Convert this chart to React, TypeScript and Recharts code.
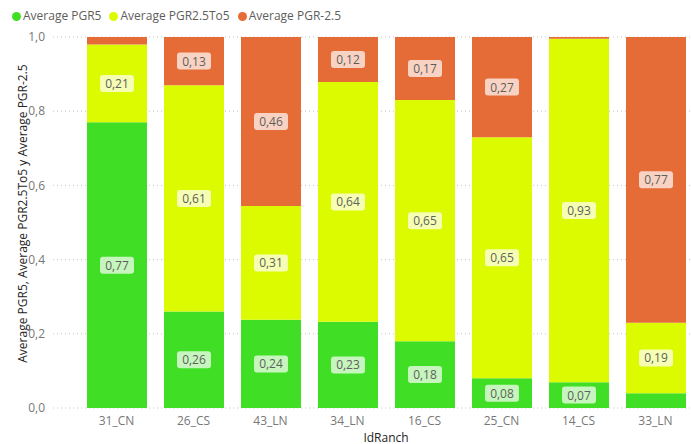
import { Bar, BarChart, CartesianGrid, LabelList, XAxis, YAxis } from "recharts";

const ranches = ["31_CN", "26_CS", "43_LN", "34_LN", "16_CS", "25_CN", "14_CS", "33_LN"];
const pgr5 = [0.77, 0.26, 0.24, 0.23, 0.18, 0.08, 0.07, 0.04];
const pgr25to5 = [0.21, 0.61, 0.31, 0.64, 0.65, 0.65, 0.93, 0.19];
const pgrMinus25 = [0.02, 0.13, 0.46, 0.12, 0.17, 0.27, 0.005, 0.77];
const yTicks = [0, 0.2, 0.4, 0.6, 0.8, 1];

const series = [
  { key: "pgr5", name: "Average PGR5", color: "#40df26" },
  { key: "pgr25to5", name: "Average PGR2.5To5", color: "#dcfa00" },
  { key: "pgrMinus25", name: "Average PGR-2.5", color: "#e66c37" },
];

const data = ranches.map((id, i) => ({
  id,
  pgr5: pgr5[i],
  pgr25to5: pgr25to5[i],
  pgrMinus25: pgrMinus25[i],
}));

const font = "'Segoe UI', 'Open Sans', sans-serif";
const fmt = (v: number) => v.toFixed(1).replace(".", ",");

function ValueLabel(props: any) {
  const { x, y, width, height, value } = props;
  if (value < 0.06) return null;
  const cx = x + width / 2;
  const cy = y + height / 2;
  return (
    <g>
      <rect x={cx - 17} y={cy - 8.5} width={34} height={17} rx={3} fill="#fff" fillOpacity={0.7} />
      <text x={cx} y={cy} textAnchor="middle" dominantBaseline="central" fill="#605e5c" fontSize={12} fontFamily={font}>
        {value.toFixed(2).replace(".", ",")}
      </text>
    </g>
  );
}

function YTitle(props: any) {
  const { viewBox } = props;
  const x = viewBox.x + 22;
  const y = viewBox.y + viewBox.height / 2 - 9;
  return (
    <text x={x} y={y} transform={`rotate(-90, ${x}, ${y})`} textAnchor="middle" dominantBaseline="central" fill="#252423" fontSize={12} fontFamily={font}>
      Average PGR5, Average PGR2.5To5 y Average PGR-2.5
    </text>
  );
}

function XTitle(props: any) {
  const { viewBox } = props;
  const x = viewBox.x + 25 + (viewBox.width - 25) / 2;
  return (
    <text x={x} y={viewBox.y + 29} textAnchor="middle" dominantBaseline="central" fill="#252423" fontSize={12} fontFamily={font}>
      IdRanch
    </text>
  );
}

export default function App() {
  return (
    <div style={{ position: "absolute", left: 0, top: 0, width: 691, height: 444, overflow: "hidden", fontFamily: font }}>
      <div style={{ position: "absolute", left: 12, top: 7, display: "flex", gap: 8, fontSize: 12, lineHeight: "18px", color: "#605e5c" }}>
        {series.map((s) => (
          <div key={s.key} style={{ display: "flex", alignItems: "center", gap: 2 }}>
            <span style={{ width: 9, height: 9, borderRadius: 5, background: s.color, display: "inline-block" }} />
            {s.name}
          </div>
        ))}
      </div>
      <BarChart
        width={694}
        height={444}
        data={data}
        stackOffset="expand"
        margin={{ top: 37, right: 0, bottom: 0, left: 0 }}
        barSize={60}
      >
        <CartesianGrid vertical={false} stroke="#c8c6c4" strokeDasharray="1 3" />
        <XAxis
          dataKey="id"
          height={36}
          padding={{ left: 25, right: 0 }}
          tickLine={false}
          axisLine={false}
          tick={{ fill: "#777", fontSize: 12, fontFamily: font }}
          label={<XTitle />}
        />
        <YAxis
          width={53}
          domain={[0, 1]}
          ticks={yTicks}
          tickFormatter={fmt}
          tickLine={false}
          axisLine={false}
          tick={{ fill: "#777", fontSize: 12, fontFamily: font }}
          label={<YTitle />}
        />
        {series.map((s) => (
          <Bar key={s.key} dataKey={s.key} name={s.name} stackId="a" fill={s.color} isAnimationActive={false}>
            <LabelList dataKey={s.key} content={<ValueLabel />} />
          </Bar>
        ))}
      </BarChart>
    </div>
  );
}
